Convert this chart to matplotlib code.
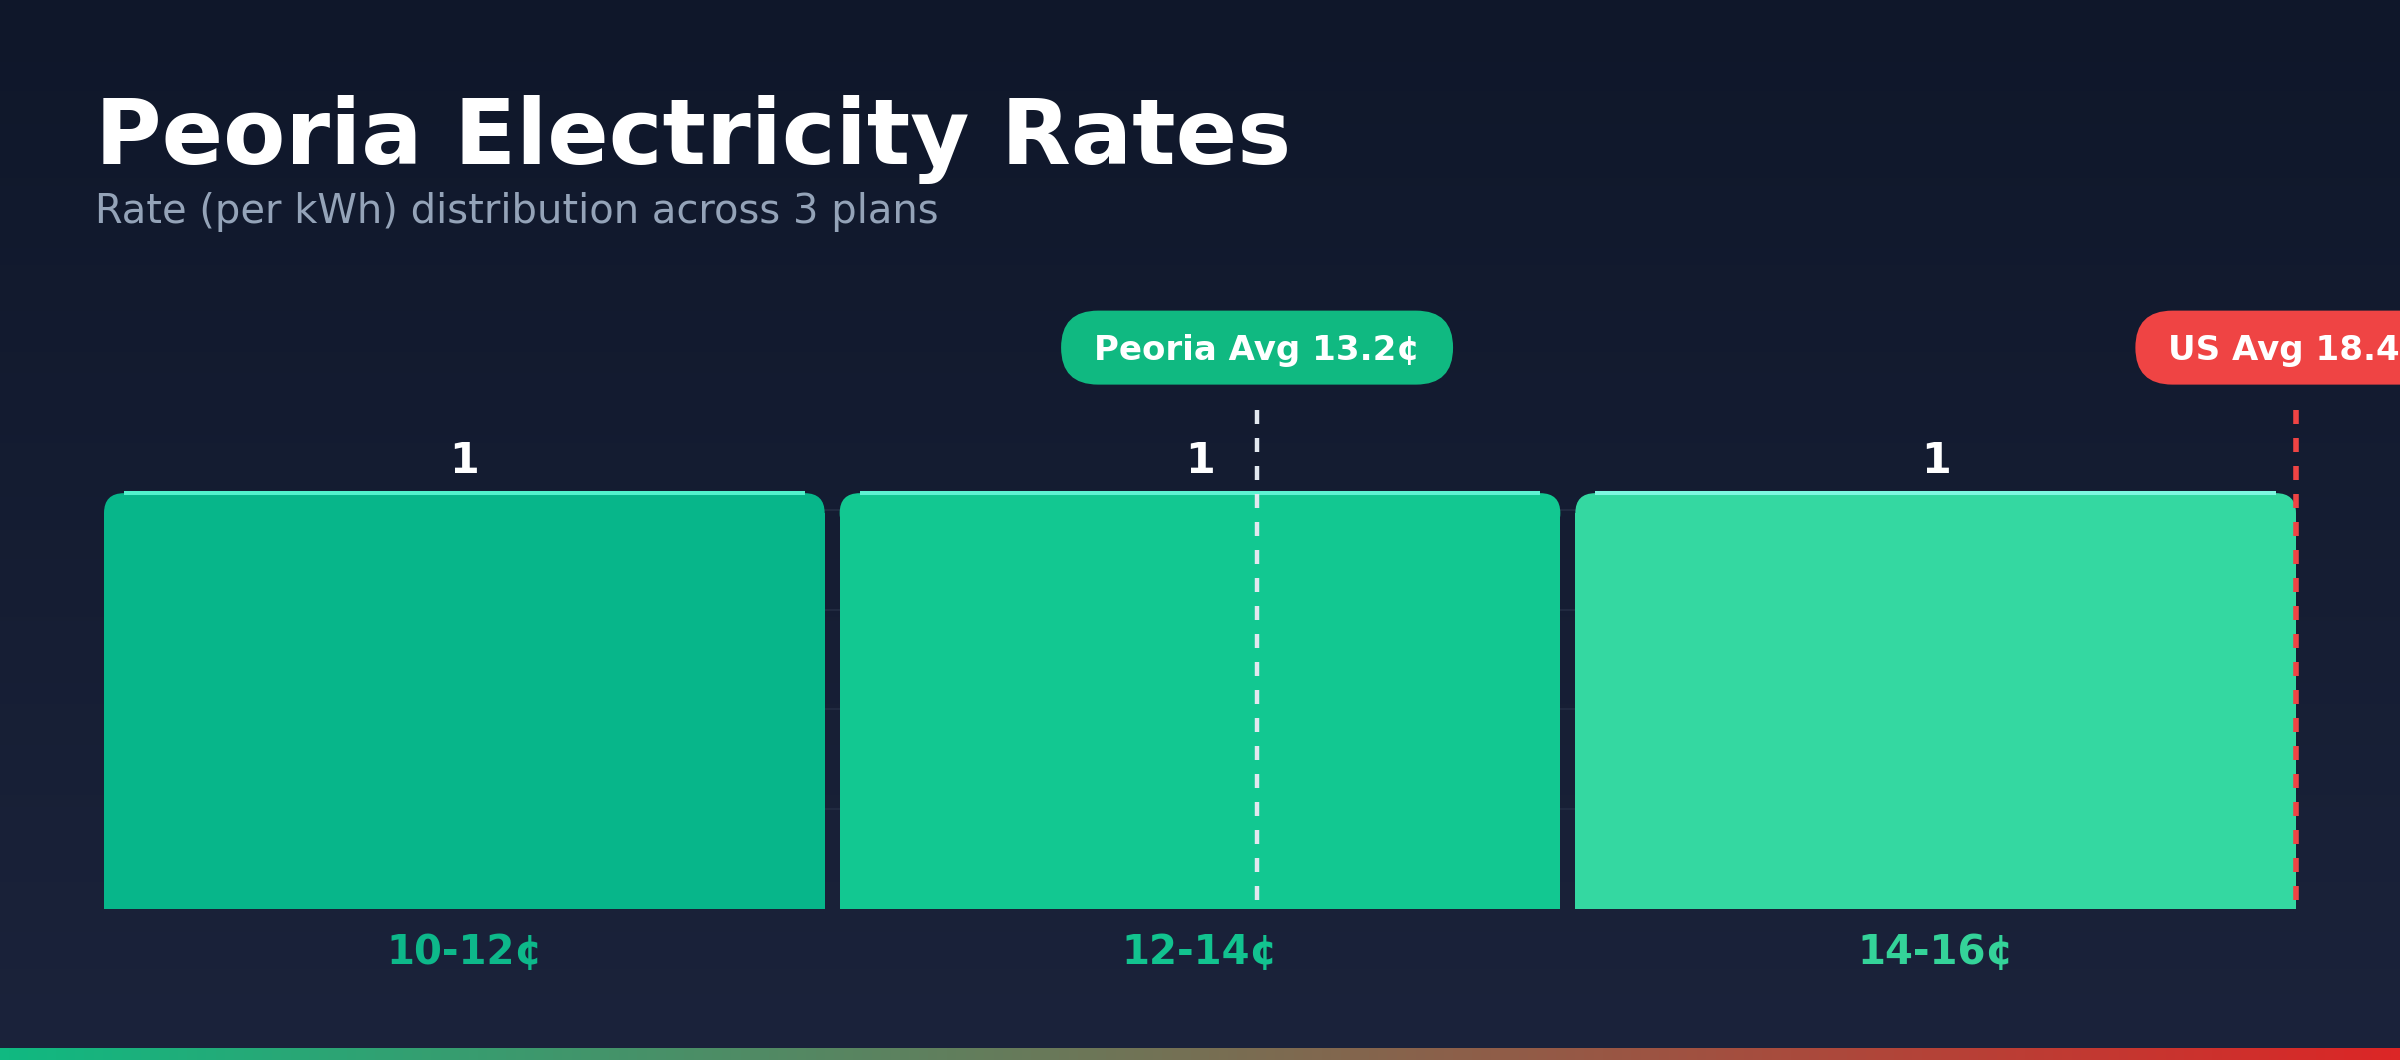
import numpy as np
import matplotlib
matplotlib.use("Agg")
import matplotlib.pyplot as plt
import matplotlib.transforms as mtransforms
from matplotlib.patches import FancyBboxPatch
from matplotlib.colors import LinearSegmentedColormap

# data
bins = ["10-12¢", "12-14¢", "14-16¢"]
bin_lo = [10, 12, 14]
bin_step = 2
counts = [1, 1, 1]
peoria_avg = 13.2
us_avg = 18.4

# styles
bar_colors = ["#07b68a", "#12c891", "#34d8a1"]
label_colors = ["#0db88a", "#12c38f", "#34d399"]
hl_colors = ["#52f2cc", "#5ef3d2", "#7ef7e0"]

fig = plt.figure(figsize=(24, 10.6), dpi=100)
W, H = 2400, 1060

# background gradient
bgax = fig.add_axes([0, 0, 1, 1], zorder=-10)
bg_cmap = LinearSegmentedColormap.from_list("bg", ["#0f172a", "#1b233b"])
bgax.imshow(np.linspace(0, 1, 256).reshape(-1, 1), cmap=bg_cmap, aspect="auto",
            extent=[0, 1, 0, 1], origin="upper")
bgax.axis("off")

# bottom strip
sax = fig.add_axes([0, 0, 1, 12 / H], zorder=-5)
strip_cmap = LinearSegmentedColormap.from_list("strip", ["#10b981", "#dc2626"])
sax.imshow(np.linspace(0, 1, 256).reshape(1, -1), cmap=strip_cmap, aspect="auto")
sax.axis("off")

# titles
fig.text(95 / W, 1 - 164 / H, "Peoria Electricity Rates", fontsize=65.3,
         fontweight="bold", color="white", va="baseline")
fig.text(95 / W, 1 - 223 / H, "Rate (per kWh) distribution across 3 plans",
         fontsize=28.8, color="#94a3b8", va="baseline")

# main axes
ax = fig.add_axes([104 / W, 151 / H, 2192 / W, 499 / H])
ax.patch.set_alpha(0)
x = np.arange(len(bins))
bw = 721 / 736
ax.set_xlim(-bw / 2, len(bins) - 1 + bw / 2)
ax.set_ylim(0, 1.2)
for s in ax.spines.values():
    s.set_visible(False)
ax.set_xticks([])
ax.set_yticks([0.24, 0.48, 0.72, 0.96])
ax.tick_params(length=0, labelleft=False)
ax.grid(axis="y", color="#232c42", lw=1.3)
ax.set_axisbelow(True)

# corner radius 20px in data units
p0 = ax.transData.transform((0, 0))
p1 = ax.transData.transform((1, 1))
rx = 20 / (p1[0] - p0[0])
ry = 20 / (p1[1] - p0[1])

c = np.array(counts, dtype=float)
ax.bar(x, c - ry, width=bw, color=bar_colors, linewidth=0, zorder=2)
for i in range(len(bins)):
    top = FancyBboxPatch((x[i] - bw / 2, c[i] - 2 * ry), bw, 2 * ry,
                         boxstyle=f"round,pad=0,rounding_size={rx}",
                         mutation_aspect=ry / rx, fc=bar_colors[i], ec="none", zorder=2)
    ax.add_patch(top)
    ax.plot([x[i] - bw / 2 + rx, x[i] + bw / 2 - rx], [c[i], c[i]], color=hl_colors[i],
            lw=2.9, solid_capstyle="butt", zorder=3)
    ax.annotate(str(counts[i]), (x[i], c[i]), xytext=(0, 14.6), textcoords="offset points",
                ha="center", va="baseline", fontsize=31, fontweight="bold", color="white")
    ax.annotate(bins[i], (x[i], 0), xytext=(0, -39.6), textcoords="offset points",
                ha="center", va="baseline", fontsize=29, fontweight="bold",
                color=label_colors[i], annotation_clip=False)


# position of an average line, as the source chart does it
def avg_pos(v):
    p = -bw / 2 + (v - bin_lo[0]) / bin_step * bw
    return min(p, ax.get_xlim()[1])


trans = ax.get_xaxis_transform()
renderer = fig.canvas.get_renderer()
for val, name, col, lw in [(peoria_avg, "Peoria Avg", "#e2e8f0", 3.2),
                           (us_avg, "US Avg", "#ef4444", 4.0)]:
    xp = avg_pos(val)
    d = 10.08 / lw
    ax.plot([xp, xp], [1, 0], transform=trans, color=col,
            lw=lw, dashes=(d, d), zorder=4, clip_on=False)
    pill_col = "#10b981" if name == "Peoria Avg" else "#ef4444"
    t = ax.text(xp, 1.119, f"{name} {val}¢", transform=trans, ha="center", va="center",
                fontsize=24.5, fontweight="bold", color="white", zorder=6, clip_on=False)
    ext = t.get_window_extent(renderer)
    cy = (ext.y0 + ext.y1) / 2 + 3
    pill = FancyBboxPatch((ext.x0 - 33, cy - 37), ext.width + 66, 74,
                          boxstyle="round,pad=0,rounding_size=37",
                          transform=mtransforms.IdentityTransform(),
                          fc=pill_col, ec="none", zorder=5, clip_on=False)
    ax.add_patch(pill)

fig.savefig("out.png", dpi=100)
